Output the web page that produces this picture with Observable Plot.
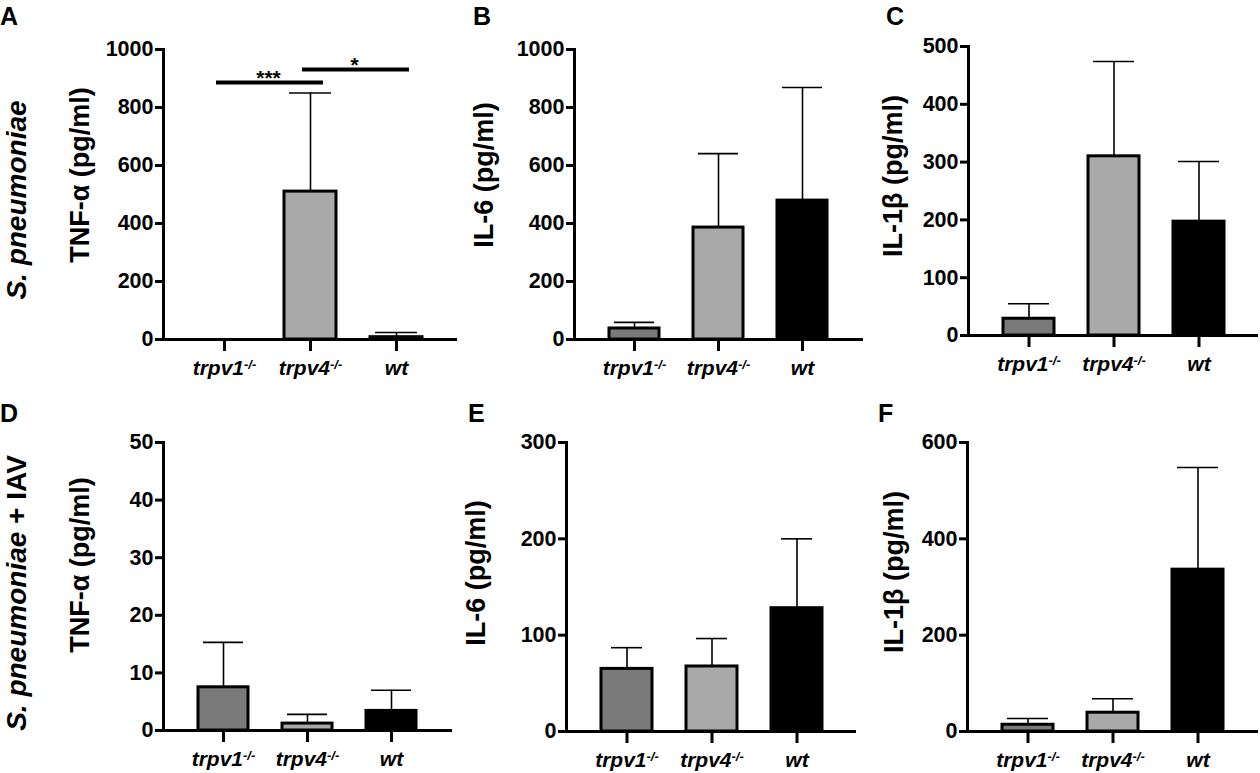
<!DOCTYPE html>
<html><head><meta charset="utf-8">
<script src="https://cdn.jsdelivr.net/npm/d3@7"></script>
<script src="https://cdn.jsdelivr.net/npm/@observablehq/plot@0.6"></script>
<style>
body{margin:0;background:#fff;font-family:"Liberation Sans",Arial,sans-serif;}
#fig{position:relative;width:1260px;height:773px;overflow:hidden;background:#fff;}
.panel{position:absolute;}
.lab{position:absolute;font-weight:bold;white-space:nowrap;color:#000;line-height:1;}
.rot{transform:translate(-50%,-50%) rotate(-90deg);}
</style></head><body><div id="fig"></div>
<script>
// ---- data ----
const categories = ["trpv1", "trpv4", "wt"];
const superscripts = ["-/-", "-/-", ""];
const barColors = ["#7a7a7a", "#a9a9a9", "#000000"];

const tnfSp = [0, 510, 8];
const tnfSpErr = [0, 850, 24];
const il6Sp = [38, 386, 479];
const il6SpErr = [59, 641, 869];
const il1bSp = [29, 310, 197];
const il1bSpErr = [55, 474, 301];

const tnfSpIav = [7.5, 1.2, 3.4];
const tnfSpIavErr = [15.3, 2.8, 7.0];
const il6SpIav = [65, 67.5, 128];
const il6SpIavErr = [87, 96.5, 200];
const il1bSpIav = [14, 39, 336];
const il1bSpIavErr = [27, 68, 548];

const ticks1000 = [0, 200, 400, 600, 800, 1000];
const ticks500 = [0, 100, 200, 300, 400, 500];
const ticks50 = [0, 10, 20, 30, 40, 50];
const ticks300 = [0, 100, 200, 300];
const ticks600 = [0, 200, 400, 600];

const sigFrom = ["trpv1", "trpv4"];
const sigTo = ["trpv4", "wt"];
const sigY = [886, 931];
const sigLabels = ["***", "*"];

const panelLetters = ["A", "B", "C", "D", "E", "F"];
const yTitles = ["TNF-α (pg/ml)", "IL-6 (pg/ml)", "IL-1β (pg/ml)", "TNF-α (pg/ml)", "IL-6 (pg/ml)", "IL-1β (pg/ml)"];

// ---- layout ----
const fig = document.getElementById("fig");
const ns = "http://www.w3.org/2000/svg";

const panels = [
  {values: tnfSp, errors: tnfSpErr, ticks: ticks1000, left: 0, top: 0, h: 386, axisX: 163, yTop: 49, y0: 339, xEnd: 457, cap: 5, sig: true},
  {values: il6Sp, errors: il6SpErr, ticks: ticks1000, left: 420, top: 0, h: 386, axisX: 574, yTop: 49, y0: 339, xEnd: 863, cap: 5},
  {values: il1bSp, errors: il1bSpErr, ticks: ticks500, left: 840, top: 0, h: 386, axisX: 968, yTop: 46, y0: 335, xEnd: 1258, cap: 5},
  {values: tnfSpIav, errors: tnfSpIavErr, ticks: ticks50, left: 0, top: 386, h: 387, axisX: 163, yTop: 442, y0: 730, xEnd: 452, cap: 5},
  {values: il6SpIav, errors: il6SpIavErr, ticks: ticks300, left: 420, top: 386, h: 387, axisX: 566, yTop: 442, y0: 731, xEnd: 856, cap: 10},
  {values: il1bSpIav, errors: il1bSpIavErr, ticks: ticks600, left: 840, top: 386, h: 387, axisX: 967, yTop: 442, y0: 731, xEnd: 1258, cap: 5}
];

const labelPos = [
  {letter: [0, 4], title: [80, 175]},
  {letter: [473, 4], title: [484, 175]},
  {letter: [886, 4], title: [893, 176]},
  {letter: [0, 401], title: [80, 565]},
  {letter: [468, 401], title: [476, 573]},
  {letter: [878, 401], title: [894, 572]}
];

panels.forEach((p, k) => {
  const rows = categories.map((c, i) => ({cat: c, value: p.values[i], err: p.errors[i]})).filter(d => d.value > 0);
  const width = Math.max(p.xEnd - p.left + 3, 420);
  const w = Math.min(width, 1260 - p.left);
  const yMax = p.ticks[p.ticks.length - 1];
  const marks = [
    Plot.barY(rows, {x: "cat", y: "value", fill: "cat", stroke: "#000", strokeWidth: 3}),
    Plot.ruleX(rows, {x: "cat", y1: "value", y2: "err", stroke: "#000", strokeWidth: 1.6}),
    Plot.ruleY(rows, {x1: "cat", x2: "cat", y: "err", insetLeft: p.cap, insetRight: p.cap, stroke: "#000", strokeWidth: 1.6}),
    Plot.ruleY([0], {stroke: "#000", strokeWidth: 3}),
    Plot.frame({anchor: "left", stroke: "#000", strokeWidth: 3}),
    Plot.axisY(p.ticks, {tickSize: 8, tickPadding: 2, strokeWidth: 3, fontSize: 21.5, fontWeight: "bold", tickFormat: d => String(d), label: null}),
    Plot.axisX({tickSize: 12, tickPadding: 9, strokeWidth: 3, fontSize: 21, fontWeight: "bold", fontStyle: "italic", label: null})
  ];
  if (p.sig) {
    const sig = sigY.map((y, i) => ({from: sigFrom[i], to: sigTo[i], y, label: sigLabels[i]}));
    marks.push(Plot.ruleY(sig, {x1: "from", x2: "to", y: "y", insetLeft: 18, insetRight: 13, stroke: "#000", strokeWidth: 4}));
    marks.push(Plot.text(sig, {x: "from", y: "y", text: "label", dx: 44, dy: 2, lineAnchor: "bottom", fontSize: 21, fontWeight: "bold"}));
  }
  const chart = Plot.plot({
    width: w,
    height: p.h,
    marginLeft: p.axisX - p.left,
    marginRight: w - (p.xEnd - p.left),
    marginTop: p.yTop - p.top,
    marginBottom: p.top + p.h - p.y0,
    x: {domain: categories, padding: 0.4},
    y: {domain: [0, yMax]},
    color: {domain: categories, range: barColors},
    style: {background: "transparent", fontFamily: "'Liberation Sans', Arial, sans-serif", overflow: "visible", color: "#000"},
    marks
  });
  chart.classList.add("panel");
  chart.style.left = p.left + "px";
  chart.style.top = p.top + "px";
  chart.style.maxWidth = "none";
  // superscripts on genotype tick labels
  chart.querySelectorAll('g[aria-label="x-axis tick label"] text').forEach(t => {
    const i = categories.indexOf(t.textContent);
    if (i >= 0 && superscripts[i]) {
      const ts = document.createElementNS(ns, "tspan");
      ts.setAttribute("dy", "-0.5em");
      ts.setAttribute("font-size", "0.62em");
      ts.textContent = superscripts[i];
      t.appendChild(ts);
    }
  });
  fig.appendChild(chart);

  const lp = labelPos[k];
  const L = document.createElement("div");
  L.className = "lab";
  L.style.fontSize = "25px";
  L.style.left = lp.letter[0] + "px";
  L.style.top = lp.letter[1] + "px";
  L.textContent = panelLetters[k];
  fig.appendChild(L);

  const T = document.createElement("div");
  T.className = "lab rot";
  T.style.fontSize = "27px";
  T.style.left = lp.title[0] + "px";
  T.style.top = lp.title[1] + "px";
  T.textContent = yTitles[k];
  fig.appendChild(T);
});

// row labels
const rowLabels = [
  {italic: "S. pneumoniae", rest: "", cy: 200},
  {italic: "S. pneumoniae", rest: " + IAV", cy: 593}
];
rowLabels.forEach(r => {
  const d = document.createElement("div");
  d.className = "lab rot";
  d.style.fontSize = "28px";
  d.style.left = "17px";
  d.style.top = r.cy + "px";
  const i = document.createElement("i");
  i.textContent = r.italic;
  d.appendChild(i);
  d.appendChild(document.createTextNode(r.rest));
  fig.appendChild(d);
});
</script>
</body></html>
